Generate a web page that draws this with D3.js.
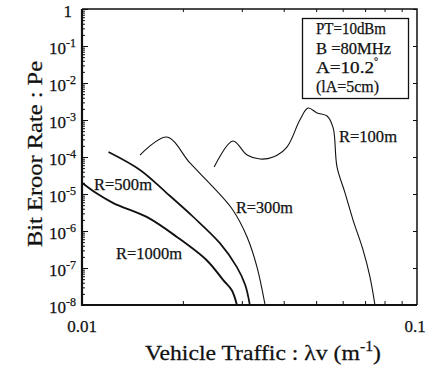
<!DOCTYPE html>
<html>
<head>
<meta charset="utf-8">
<script src="https://cdn.jsdelivr.net/npm/d3@7"></script>
<style>
  body { margin: 0; background: #fff; }
  svg { display: block; }
  text { font-family: "Liberation Serif", "Times New Roman", Times, serif; fill: #111; stroke: #111; stroke-width: 0.25; }
</style>
</head>
<body>
<svg id="chart" width="432" height="366"></svg>
<script>
// Axis ranges and tick labels
const xDomain = [0.01, 0.1];
const yDomain = [1e-8, 1];
const xTickValues = [0.01, 0.1];
const xTickLabels = ["0.01", "0.1"];
const yTickExponents = [0, -1, -2, -3, -4, -5, -6, -7, -8];

// Bit error rate vs. vehicle traffic for each communication range R
const r1000 = [[0.0100, 2.0e-5], [0.0109, 1.13e-5], [0.0124, 5.7e-6], [0.0156, 2.4e-6],
               [0.0192, 6.9e-7], [0.0236, 1.6e-7], [0.0264, 4.7e-8], [0.0280, 2.5e-8], [0.0290, 1e-8]];
const r500  = [[0.0120, 1.36e-4], [0.0149, 4.45e-5], [0.0179, 1.06e-5], [0.0215, 2.39e-6],
               [0.0258, 4.7e-7], [0.0290, 1.06e-7], [0.0307, 3.5e-8], [0.0317, 1e-8]];
const r300  = [[0.0149, 1.13e-4], [0.0179, 3.47e-4], [0.0210, 6.9e-5], [0.0246, 1.55e-5],
               [0.0282, 3.7e-6], [0.0311, 6.9e-7], [0.0333, 1.06e-7], [0.0352, 1e-8]];
const r100  = [[0.0248, 5.4e-5], [0.0282, 2.7e-4], [0.0311, 1.13e-4], [0.0340, 8.8e-5],
               [0.0372, 1.0e-4], [0.0409, 1.86e-4], [0.0447, 1.0e-3], [0.0473, 2.1e-3],
               [0.0503, 1.55e-3], [0.0539, 1.28e-3], [0.0562, 6.1e-4], [0.0577, 5.4e-5],
               [0.0610, 1.06e-5], [0.0644, 2.0e-6], [0.0690, 3.1e-7], [0.0724, 5.7e-8], [0.0749, 1e-8]];

const seriesNames = ["R=1000m", "R=500m", "R=300m", "R=100m"];
const seriesData = [r1000, r500, r300, r100];
const conditions = ["PT=10dBm", "B =80MHz", "A=10.2", "(lA=5cm)"];

const svg = d3.select("#chart");
const margin = { left: 82, right: 15, top: 9, bottom: 61 };
const W = 432, H = 366;
const x = d3.scaleLog().domain(xDomain).range([margin.left, W - margin.right]);
const y = d3.scaleLog().domain(yDomain).range([H - margin.bottom, margin.top]);

// minor tick values (2..9 within each decade)
const yMinor = [];
for (let e = -8; e < 0; e++) for (let m = 2; m <= 9; m++) yMinor.push(m * Math.pow(10, e));
const xMinor = [];
for (let m = 2; m <= 9; m++) xMinor.push(m * 0.01);
const yMajor = yTickExponents.map(e => Math.pow(10, e));

function tickAxis(gen, transform, values, size) {
  const g = svg.append("g").attr("transform", transform)
    .call(gen.tickValues(values).tickSize(size).tickFormat(""));
  g.select(".domain").remove();
  g.selectAll("line").attr("stroke", "#111").attr("stroke-width", 1);
}
// inward ticks on all sides
tickAxis(d3.axisLeft(y), `translate(${margin.left},0)`, yMinor, -3);
tickAxis(d3.axisLeft(y), `translate(${margin.left},0)`, yMajor, -6);
tickAxis(d3.axisRight(y), `translate(${W - margin.right},0)`, yMajor, -4);
tickAxis(d3.axisBottom(x), `translate(0,${H - margin.bottom})`, xMinor, -4);
tickAxis(d3.axisTop(x), `translate(0,${margin.top})`, xMinor, -3);

// frame
svg.append("path")
  .attr("d", `M${margin.left},${margin.top}V${H - margin.bottom}H${W - margin.right}`)
  .attr("fill", "none").attr("stroke", "#111").attr("stroke-width", 2.2);
svg.append("path")
  .attr("d", `M${margin.left},${margin.top}H${W - margin.right}V${H - margin.bottom}`)
  .attr("fill", "none").attr("stroke", "#111").attr("stroke-width", 1.5);

// curves
const line = d3.line().x(d => x(d[0])).y(d => y(d[1])).curve(d3.curveCatmullRom.alpha(0.5));
const widths = [1.9, 1.7, 1.1, 1.1];
seriesData.forEach((s, i) => {
  svg.append("path").datum(s).attr("d", line)
    .attr("fill", "none").attr("stroke", "#111")
    .attr("stroke-width", widths[i]).attr("stroke-linejoin", "round");
});

// curve labels
const labelPos = [[116, 259, 66], [94, 190, 58], [236, 213, 57], [339, 142, 58]];
seriesNames.forEach((n, i) => {
  const [lx, ly, lw] = labelPos[i];
  svg.append("text").attr("x", lx).attr("y", ly)
    .attr("font-size", 17).attr("textLength", lw).attr("lengthAdjust", "spacingAndGlyphs")
    .text(n);
});

// y tick labels
yTickExponents.forEach(e => {
  const ty = y(Math.pow(10, e)) + 8;
  if (e === 0) {
    svg.append("text").attr("x", 72).attr("y", ty).attr("text-anchor", "end")
      .attr("font-size", 17).text("1");
  } else {
    const t = svg.append("text").attr("x", 76).attr("y", ty).attr("text-anchor", "end")
      .attr("font-size", 17);
    t.append("tspan").text("10");
    t.append("tspan").attr("font-size", 12).attr("dy", -7).text(String(e));
  }
});

// x tick labels
xTickValues.forEach((v, i) => {
  svg.append("text").attr("x", x(v) + (i === 1 ? -2 : 0)).attr("y", 332)
    .attr("text-anchor", "middle").attr("font-size", 17).text(xTickLabels[i]);
});

// axis titles
svg.append("text")
  .attr("transform", "translate(42,154) rotate(-90)")
  .attr("text-anchor", "middle").attr("font-size", 22)
  .attr("textLength", 186).attr("lengthAdjust", "spacingAndGlyphs")
  .text("Bit Eroor Rate : Pe");

const xtX = 145, xtW = 236;
const xt = svg.append("text").attr("x", xtX).attr("y", 360).attr("font-size", 21);
xt.append("tspan").text("Vehicle Traffic : λv (m");
xt.append("tspan").attr("font-size", 14).attr("dy", -9).text("-1");
xt.append("tspan").attr("dy", 9).text(")");
// stretch the title horizontally to its span
const xtBox = xt.node().getBBox();
const sx = xtW / xtBox.width;
xt.attr("transform", `translate(${xtX},0) scale(${sx},1) translate(${-xtX},0)`);

// parameter box
svg.append("rect").attr("x", 302.5).attr("y", 18.5).attr("width", 106).attr("height", 80)
  .attr("fill", "#fff").attr("stroke", "#111").attr("stroke-width", 1.3);
const condW = [70, 75, 58, 63];
const condY = [34, 54, 73, 92];
conditions.forEach((c, i) => {
  const t = svg.append("text").attr("x", 316).attr("y", condY[i]).attr("font-size", 16);
  if (i === 2) {
    t.append("tspan").attr("textLength", condW[i]).attr("lengthAdjust", "spacingAndGlyphs").text(c);
    t.append("tspan").attr("font-size", 10).attr("dy", -8).text("°");
  } else {
    t.attr("textLength", condW[i]).attr("lengthAdjust", "spacingAndGlyphs").text(c);
  }
});
</script>
</body>
</html>
